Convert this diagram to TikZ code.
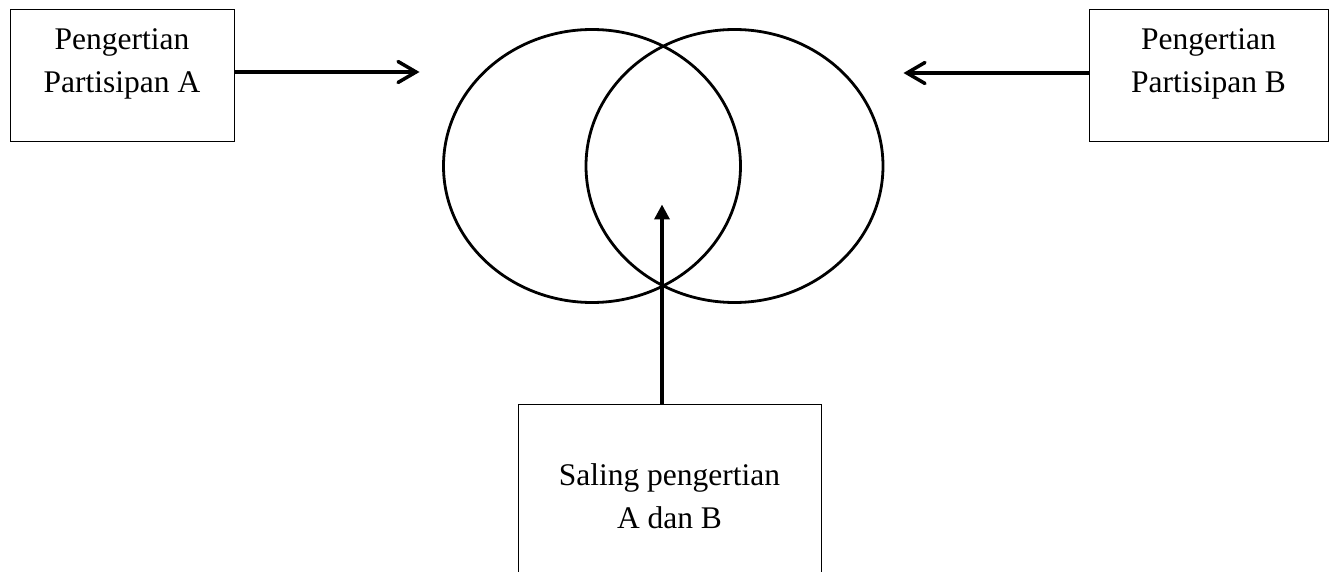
\documentclass[tikz,border=0pt]{standalone}
\usepackage{fontspec}
\setmainfont{Liberation Serif}
\usetikzlibrary{shapes.geometric, arrows.meta}

\begin{document}
\begin{tikzpicture}[x=1pt, y=-1pt,
    box/.style={draw, line width=1pt, inner sep=0pt},
    lbl/.style={font=\fontsize{31.5}{43}\selectfont, align=center, inner sep=0pt, anchor=north},
    ring/.style={draw, ellipse, line width=2.8pt, inner sep=0pt, minimum width=297pt, minimum height=273pt},
    barb/.style={line width=3.5pt, -{Straight Barb[length=18pt, width=21pt, line cap=round]}},
    tri/.style={line width=3.5pt, -{Triangle[length=15pt, width=15pt]}}
  ]
    \clip (0,0) rectangle (1331,572);

    % Circles
    \node[ring] (ringA) at (592,166) {};
    \node[ring] (ringB) at (734.5,166) {};

    % Boxes
    \node[box, minimum width=224pt, minimum height=132pt] (boxA) at (122,76) {};
    \node[lbl] (txtA) at (122,28.5) {Pengertian\\Partisipan A};
    \node[box, minimum width=239pt, minimum height=132pt] (boxB) at (1208.5,76) {};
    \node[lbl] (txtB) at (1208.5,28.5) {Pengertian\\Partisipan B};
    \node[box, minimum width=303pt, minimum height=250pt] (boxC) at (669.5,529) {};
    \node[lbl] (txtC) at (669.5,463.5) {Saling pengertian\\A dan B};

    % Arrows
    \draw[barb] ([yshift=4pt]boxA.east) -- ++(185,0);
    \draw[barb] ([yshift=3pt]boxB.west) -- ++(-185,0);
    \draw[tri] ([xshift=-7.5pt]boxC.north) -- ++(0,-199);
\end{tikzpicture}
\end{document}
